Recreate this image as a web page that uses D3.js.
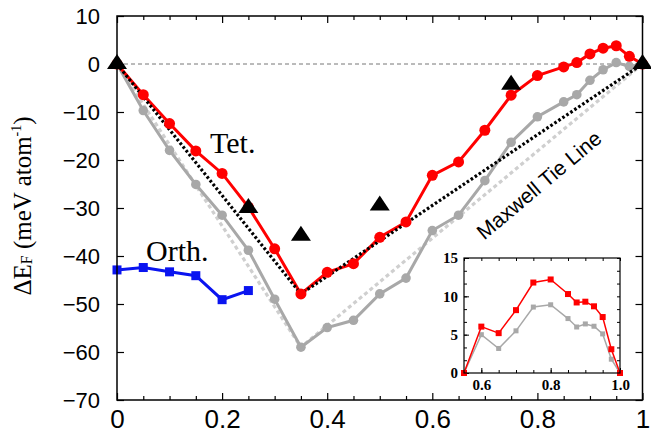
<!DOCTYPE html>
<html>
<head>
<meta charset="utf-8">
<script src="https://cdn.jsdelivr.net/npm/d3@7/dist/d3.min.js"></script>
<style>
  body { margin: 0; background: #fff; }
  svg { display: block; }
</style>
</head>
<body>
<div id="app"></div>
<script>
// composition grid
const xComp = [0, 0.05, 0.1, 0.15, 0.2, 0.25, 0.3, 0.35, 0.4, 0.45, 0.5, 0.55, 0.6, 0.65, 0.7, 0.75, 0.8, 0.85, 0.875, 0.9, 0.925, 0.95, 0.975, 1.0];
const tetVals = [0, -6.4, -12.4, -18.1, -22.8, -29.8, -38.5, -47.9, -43.4, -41.6, -36.1, -32.9, -23.2, -20.4, -13.8, -6.5, -2.4, -0.6, 0.3, 2.1, 3.3, 3.8, 1.6, 0];
const grayVals = [0, -9.7, -18.0, -25.1, -31.5, -38.8, -49.0, -59.0, -54.9, -53.4, -47.9, -44.6, -34.7, -31.5, -24.3, -16.3, -11.0, -7.9, -6.4, -3.4, -1.2, 0.3, -0.5, 0];

const orthX = [0, 0.05, 0.1, 0.15, 0.2, 0.25];
const orthVals = [-42.9, -42.4, -43.3, -44.1, -49.1, -47.2];

const triX = [0, 0.25, 0.35, 0.5, 0.75, 1.0];
const triVals = [0, -30.0, -35.8, -29.5, -4.3, 0];

// tie lines (hull corners)
const tieX = [0, 0.35, 1];
const tieTet = [0, -47.9, 0];
const tieGray = [0, -59.0, 0];

const xTicks = [0, 0.2, 0.4, 0.6, 0.8, 1];
const yTicks = [-70, -60, -50, -40, -30, -20, -10, 0, 10];

// inset
const insetX = [0.55, 0.6, 0.65, 0.7, 0.75, 0.8, 0.85, 0.875, 0.9, 0.925, 0.95, 0.975, 1.0];
const insetTet = [0, 6.05, 5.2, 8.2, 11.8, 12.2, 10.3, 9.2, 9.3, 8.7, 7.3, 3.1, 0];
const insetGray = [0, 5.0, 3.2, 5.5, 8.6, 8.9, 7.1, 6.0, 6.4, 6.1, 5.1, 1.8, 0];
const insetXTicks = [0.6, 0.8, 1.0];
const insetYTicks = [0, 5, 10, 15];

const w = 651, h = 435;
const L = 117, R = 642.5, T = 16, B = 400;

const svg = d3.select("#app").append("svg")
    .attr("width", w).attr("height", h)
    .style("background-color", "white");

const x = d3.scaleLinear().domain([0, 1]).range([L, R]);
const y = d3.scaleLinear().domain([-70, 10]).range([B, T]);

const minorX = d3.range(0, 1.0001, 0.05).filter(v => Math.abs(v * 5 - Math.round(v * 5)) > 1e-6);

// ticks, inward
svg.append("g").attr("transform", `translate(0,${B})`)
    .call(d3.axisBottom(x).tickValues(minorX).tickSize(-4).tickFormat(""));
svg.append("g").attr("transform", `translate(0,${T})`)
    .call(d3.axisTop(x).tickValues(minorX).tickSize(-4).tickFormat(""));
svg.append("g").attr("transform", `translate(0,${T})`)
    .call(d3.axisTop(x).tickValues(xTicks).tickSize(-7).tickFormat(""));
svg.append("g").attr("transform", `translate(${R},0)`)
    .call(d3.axisRight(y).tickValues(yTicks).tickSize(-7).tickFormat(""));

const xAxis = svg.append("g").attr("class", "xa")
    .attr("transform", `translate(0,${B})`)
    .call(d3.axisBottom(x).tickValues(xTicks).tickSize(-7).tickPadding(10).tickFormat(d3.format("")));
xAxis.selectAll("text")
    .style("font-family", "'Liberation Sans', Arial, sans-serif")
    .style("font-size", "26px").attr("fill", "#000");

const yAxis = svg.append("g").attr("class", "ya")
    .attr("transform", `translate(${L},0)`)
    .call(d3.axisLeft(y).tickValues(yTicks).tickSize(-7).tickPadding(17));
yAxis.selectAll("text")
    .style("font-family", "'Liberation Sans', Arial, sans-serif")
    .style("font-size", "22px").attr("fill", "#000");

svg.selectAll(".domain").remove();
svg.selectAll(".tick line").attr("stroke", "#000").attr("stroke-width", 1.2);

// zero reference line
svg.append("line")
    .attr("x1", x(0)).attr("x2", x(1))
    .attr("y1", y(0)).attr("y2", y(0))
    .attr("stroke", "#777").attr("stroke-width", 1)
    .attr("stroke-dasharray", "4,3");

const line = d3.line().x(d => x(d[0])).y(d => y(d[1]));

// light gray tie line
svg.append("path")
    .datum(d3.zip(tieX, tieGray))
    .attr("d", line)
    .attr("fill", "none").attr("stroke", "#cfcfcf")
    .attr("stroke-width", 3.2).attr("stroke-dasharray", "4,3");

// gray curve
svg.append("path")
    .datum(d3.zip(xComp, grayVals))
    .attr("d", line)
    .attr("fill", "none").attr("stroke", "#a8a8a8").attr("stroke-width", 3);
svg.selectAll(".gdot")
    .data(d3.zip(xComp, grayVals))
    .enter().append("circle")
    .attr("cx", d => x(d[0])).attr("cy", d => y(d[1]))
    .attr("r", 4.8).attr("fill", "#a8a8a8");

// red curve
svg.append("path")
    .datum(d3.zip(xComp, tetVals))
    .attr("d", line)
    .attr("fill", "none").attr("stroke", "#ff0000").attr("stroke-width", 3);

// black tie line
svg.append("path")
    .datum(d3.zip(tieX, tieTet))
    .attr("d", line)
    .attr("fill", "none").attr("stroke", "#000")
    .attr("stroke-width", 3.2).attr("stroke-dasharray", "2.6,2.2");

svg.selectAll(".rdot")
    .data(d3.zip(xComp, tetVals))
    .enter().append("circle")
    .attr("cx", d => x(d[0])).attr("cy", d => y(d[1]))
    .attr("r", 5.5).attr("fill", "#ff0000");

// orthorhombic
svg.append("path")
    .datum(d3.zip(orthX, orthVals))
    .attr("d", line)
    .attr("fill", "none").attr("stroke", "#0a14f0").attr("stroke-width", 3);
svg.selectAll(".bsq")
    .data(d3.zip(orthX, orthVals))
    .enter().append("rect")
    .attr("x", d => x(d[0]) - 4.5).attr("y", d => y(d[1]) - 4.5)
    .attr("width", 9).attr("height", 9).attr("fill", "#0a14f0");

// triangles
const triangle = {
    draw(ctx) {
        ctx.moveTo(0, -10);
        ctx.lineTo(10, 5);
        ctx.lineTo(-10, 5);
        ctx.closePath();
    }
};
svg.selectAll(".tri")
    .data(d3.zip(triX, triVals))
    .enter().append("path")
    .attr("d", d3.symbol().type(triangle))
    .attr("transform", d => `translate(${x(d[0])},${y(d[1])})`)
    .attr("fill", "#000");

// frame
svg.append("rect")
    .attr("x", L).attr("y", T).attr("width", R - L).attr("height", B - T)
    .attr("fill", "none").attr("stroke", "#000").attr("stroke-width", 1.5);

// labels
svg.append("text")
    .attr("x", 210).attr("y", 153)
    .style("font-family", "'Liberation Serif', 'Times New Roman', serif")
    .style("font-size", "30px")
    .text("Tet.");
svg.append("text")
    .attr("x", 146).attr("y", 261)
    .style("font-family", "'Liberation Serif', 'Times New Roman', serif")
    .style("font-size", "30px")
    .text("Orth.");
svg.append("text")
    .attr("transform", "translate(539,185) rotate(-40)")
    .attr("text-anchor", "middle").attr("dy", "0.35em")
    .style("font-family", "'Liberation Sans', Arial, sans-serif")
    .style("font-size", "21px")
    .text("Maxwell Tie Line");

// y title
const yt = svg.append("text")
    .attr("transform", "translate(31,206) rotate(-90)")
    .attr("text-anchor", "middle")
    .style("font-family", "'Liberation Serif', 'Times New Roman', serif")
    .style("font-size", "25px");
yt.append("tspan").text("ΔE");
yt.append("tspan").attr("font-size", "16px").attr("dy", 1).text("F");
yt.append("tspan").attr("dy", -1).text(" (meV atom");
yt.append("tspan").attr("font-size", "14px").attr("dy", -10).text("-1");
yt.append("tspan").attr("dy", 10).text(")");

// ---- inset ----
const IL = 464, IR = 620, IT = 258, IB = 373;
const ix = d3.scaleLinear().domain([0.55, 1.0]).range([IL, IR]);
const iy = d3.scaleLinear().domain([0, 15]).range([IB, IT]);
const inset = svg.append("g");

inset.append("rect")
    .attr("x", IL).attr("y", IT).attr("width", IR - IL).attr("height", IB - IT)
    .attr("fill", "#fff");

const iMinorX = d3.range(0.55, 1.0001, 0.05);
const iMinorY = d3.range(0, 15.001, 5 / 3);
inset.append("g").attr("transform", `translate(0,${IB})`)
    .call(d3.axisBottom(ix).tickValues(iMinorX).tickSize(-3).tickFormat(""));
inset.append("g").attr("transform", `translate(0,${IT})`)
    .call(d3.axisTop(ix).tickValues(iMinorX).tickSize(-3).tickFormat(""));
inset.append("g").attr("transform", `translate(${IL},0)`)
    .call(d3.axisLeft(iy).tickValues(iMinorY).tickSize(-3).tickFormat(""));
inset.append("g").attr("transform", `translate(${IR},0)`)
    .call(d3.axisRight(iy).tickValues(iMinorY).tickSize(-3).tickFormat(""));

const ixa = inset.append("g").attr("transform", `translate(0,${IB})`)
    .call(d3.axisBottom(ix).tickValues(insetXTicks).tickSize(-5).tickPadding(6).tickFormat(d3.format(".1f")));
const iya = inset.append("g").attr("transform", `translate(${IL},0)`)
    .call(d3.axisLeft(iy).tickValues(insetYTicks).tickSize(-5).tickPadding(6));
inset.selectAll("text")
    .style("font-family", "'Liberation Serif', 'Times New Roman', serif")
    .style("font-size", "15px").style("font-weight", "bold").attr("fill", "#000");
inset.selectAll(".domain").remove();
inset.selectAll(".tick line").attr("stroke", "#000").attr("stroke-width", 1);

const iline = d3.line().x(d => ix(d[0])).y(d => iy(d[1]));
inset.append("path")
    .datum(d3.zip(insetX, insetGray))
    .attr("d", iline)
    .attr("fill", "none").attr("stroke", "#a8a8a8").attr("stroke-width", 1.5);
inset.selectAll(".igsq")
    .data(d3.zip(insetX, insetGray))
    .enter().append("rect")
    .attr("x", d => ix(d[0]) - 2.5).attr("y", d => iy(d[1]) - 2.5)
    .attr("width", 5).attr("height", 5).attr("fill", "#a8a8a8");
inset.append("path")
    .datum(d3.zip(insetX, insetTet))
    .attr("d", iline)
    .attr("fill", "none").attr("stroke", "#ff0000").attr("stroke-width", 1.5);
inset.selectAll(".irsq")
    .data(d3.zip(insetX, insetTet))
    .enter().append("rect")
    .attr("x", d => ix(d[0]) - 3).attr("y", d => iy(d[1]) - 3)
    .attr("width", 6).attr("height", 6).attr("fill", "#ff0000");

inset.append("rect")
    .attr("x", IL).attr("y", IT).attr("width", IR - IL).attr("height", IB - IT)
    .attr("fill", "none").attr("stroke", "#000").attr("stroke-width", 1.2);
</script>
</body>
</html>
